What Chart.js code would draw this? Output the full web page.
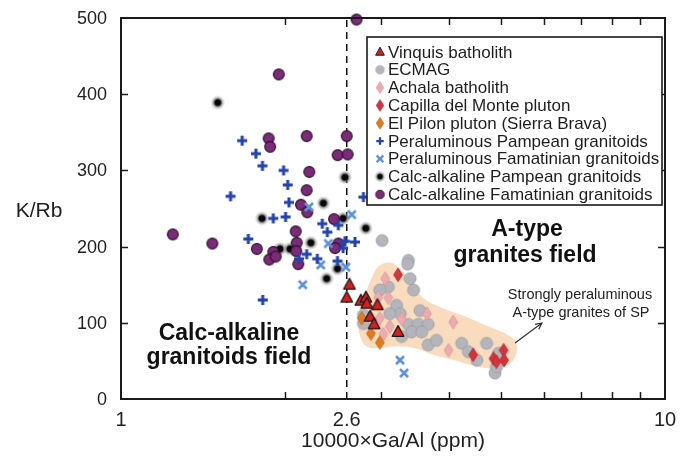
<!DOCTYPE html>
<html>
<head>
<meta charset="utf-8">
<script src="https://cdn.jsdelivr.net/npm/chart.js@4.4.1/dist/chart.umd.min.js"></script>
<style>
  html, body { margin: 0; padding: 0; background: #fff; }
  canvas { display: block; }
</style>
</head>
<body>
<canvas id="grafico" width="688" height="464"></canvas>
<script>
// -- Diagrama K/Rb x 10000xGa/Al --
const ticksX = [1, 2.6, 10];
const ticksXMenores = [2, 3, 4, 5, 6, 7, 8, 9];
const ticksY = [0, 100, 200, 300, 400, 500];
const limiteGaAl = 2.6;

// series [Ga/Al, K/Rb]
const vinquis = [[2.63,150],[2.60,133],[2.76,129],[2.82,133],[2.83,125],[2.96,123],[2.87,108],[2.92,98],[3.23,88]];
const ecmag = [[3.02,208],[3.375,182],[3.365,177],[3.40,158],[3.10,147],[2.99,143],[3.45,143],[3.21,123],[3.545,116],
  [3.26,112],[3.12,112],[2.79,110],[2.79,99],[3.375,98],[3.52,98],[3.67,98],[3.42,88],[3.57,88],[3.28,82],
  [3.67,71],[3.80,77],[4.23,73],[4.70,73],[4.35,62],[4.51,51],[4.94,60],[4.87,34],[4.90,42]];
const achala = [[3.06,158],[3.10,133],[2.97,133],[3.65,112],[2.99,106],[3.28,105],[3.12,95],[4.08,101],[3.035,85],[4.00,64]];
const capilla = [[3.23,163],[4.44,58],[4.84,53],[4.90,49],[5.05,64],[5.06,51]];
const elPilon = [[2.77,106],[2.88,86],[2.99,74]];
const peralPampeano = [[1.67,339],[1.77,322],[1.82,306],[1.99,300],[2.025,281],[1.59,266],[2.79,265],[2.036,258],
  [1.905,237],[2.007,239],[2.344,230],[2.509,228],[2.395,219],[1.714,210],[2.58,207],[2.692,206],[2.56,198],
  [2.124,184],[2.194,190],[2.295,184],[2.50,181],[1.822,130]];
const peralFamatiniano = [[2.215,252],[2.655,242],[2.405,204],[2.329,176],[2.59,173],[2.158,150],[3.258,51],[3.313,34]];
const calcPampeano = [[1.506,389],[2.58,291],[2.355,257],[1.816,237],[2.56,237],[2.818,224],[1.96,197],[2.045,197],
  [2.233,205],[2.50,171],[2.388,158]];
const calcFamatiniano = [[2.71,498],[1.95,426],[1.868,342],[1.88,331],[2.194,345],[2.60,345],[2.502,320],[2.61,321],
  [2.219,298],[2.194,274],[2.142,255],[2.20,245],[2.464,236],[2.095,220],[1.245,216],[1.472,204],[1.777,197],
  [2.104,205],[2.10,194],[2.509,204],[2.474,198],[1.905,193],[1.873,183],[1.925,187],[2.118,177]];

// campo dos granitos tipo A de SP (contorno em coordenadas de dados)
const campoX = [3.03,3.15,3.31,3.44,3.59,3.89,4.29,4.66,5.08,5.38,5.30,4.93,4.51,4.15,3.745,3.50,3.216,2.955,2.80,2.73,2.73,2.80,2.88,2.95];
const campoY = [178,180,167,148,131,119,109,97,87,75,49,39,42,50,58,67,70,66,68,88,113,135,157,173];
const setaX = [5.30, 5.94];
const setaY = [73.5, 99.7];

const fonte = 'Liberation Sans, Arial, Helvetica, sans-serif';

function marcador(tipo, cor, borda, escala) {
  const s = escala || 1;
  const c = document.createElement('canvas');
  const tam = Math.ceil(18 * s) + 2;
  c.width = tam; c.height = tam;
  const g = c.getContext('2d');
  g.translate(tam / 2, tam / 2);
  g.scale(s, s);
  g.fillStyle = cor;
  g.strokeStyle = borda;
  g.lineJoin = 'round';
  g.beginPath();
  switch (tipo) {
    case 'triangulo':
      g.moveTo(0, -6.4); g.lineTo(5.8, 4.3); g.lineTo(-5.8, 4.3); g.closePath();
      g.fill(); g.lineWidth = 1.3; g.stroke(); break;
    case 'circulo':
      g.arc(0, 0, 5.4, 0, 2 * Math.PI);
      g.fill(); g.lineWidth = 1.1; g.stroke(); break;
    case 'cinza':
      g.arc(0, 0, 6, 0, 2 * Math.PI);
      g.fill(); g.lineWidth = 0.8; g.stroke(); break;
    case 'losango':
      g.moveTo(0, -6.8); g.lineTo(4.4, 0); g.lineTo(0, 6.8); g.lineTo(-4.4, 0); g.closePath();
      g.fill(); g.lineWidth = 0.8; g.stroke(); break;
    case 'mais':
      g.lineWidth = 3; g.strokeStyle = cor;
      g.moveTo(-5, 0); g.lineTo(5, 0); g.moveTo(0, -5); g.lineTo(0, 5); g.stroke(); break;
    case 'xis':
      g.lineWidth = 2.6; g.strokeStyle = cor;
      g.moveTo(-4, -4); g.lineTo(4, 4); g.moveTo(4, -4); g.lineTo(-4, 4); g.stroke(); break;
    case 'halo': {
      const grad = g.createRadialGradient(0, 0, 0, 0, 0, 7.5);
      grad.addColorStop(0, '#000');
      grad.addColorStop(0.4, '#0c0c0c');
      grad.addColorStop(0.55, 'rgba(110,110,110,0.75)');
      grad.addColorStop(1, 'rgba(210,210,210,0)');
      g.fillStyle = grad;
      g.arc(0, 0, 7.5, 0, 2 * Math.PI); g.fill(); break;
    }
  }
  return c;
}

const estilos = [
  { nome: 'Vinquis batholith', dados: vinquis, tipo: 'triangulo', cor: '#d81f1f', borda: '#1a1a1a', leg: 0.75 },
  { nome: 'ECMAG', dados: ecmag, tipo: 'cinza', cor: '#b3b5bb', borda: '#9a9ca3', leg: 0.72 },
  { nome: 'Achala batholith', dados: achala, tipo: 'losango', cor: '#eeaab1', borda: '#d8959c', leg: 0.85 },
  { nome: 'Capilla del Monte pluton', dados: capilla, tipo: 'losango', cor: '#d3333b', borda: '#b52430', leg: 0.85 },
  { nome: 'El Pilon pluton (Sierra Brava)', dados: elPilon, tipo: 'losango', cor: '#e07b22', borda: '#c46410', leg: 0.85 },
  { nome: 'Peraluminous Pampean granitoids', dados: peralPampeano, tipo: 'mais', cor: '#2142b0', borda: '#2142b0', leg: 0.75 },
  { nome: 'Peraluminous Famatinian granitoids', dados: peralFamatiniano, tipo: 'xis', cor: '#5b8fe0', borda: '#5b8fe0', leg: 0.85 },
  { nome: 'Calc-alkaline Pampean granitoids', dados: calcPampeano, tipo: 'halo', cor: '#000', borda: '#000', leg: 0.8 },
  { nome: 'Calc-alkaline Famatinian granitoids', dados: calcFamatiniano, tipo: 'circulo', cor: '#7b2b79', borda: '#2a1029', leg: 0.8 }
];

// ordem de desenho: menor ordem fica por cima
const ordemDesenho = [0, 4, 2, 3, 1, 5, 6, 8, 7];

const datasets = estilos.map((e, i) => ({
  label: e.nome,
  data: e.dados.map(p => ({ x: p[0], y: p[1] })),
  pointStyle: marcador(e.tipo, e.cor, e.borda, 1),
  pointRadius: 6,
  order: ordemDesenho.indexOf(i),
  clip: false
}));

datasets.push({
  label: 'limite',
  data: [{ x: limiteGaAl, y: 0 }, { x: limiteGaAl, y: 500 }],
  showLine: true,
  borderColor: '#111',
  borderWidth: 1.5,
  borderDash: [7, 5],
  pointRadius: 0,
  order: 50
});

const pluginCampo = {
  id: 'campo',
  beforeDatasetsDraw(chart) {
    const { ctx, scales: { x, y } } = chart;
    const pts = campoX.map((v, i) => [x.getPixelForValue(v), y.getPixelForValue(campoY[i])]);
    const n = pts.length;
    const meio = (a, b) => [(a[0] + b[0]) / 2, (a[1] + b[1]) / 2];
    ctx.save();
    ctx.beginPath();
    const m = meio(pts[n - 1], pts[0]);
    ctx.moveTo(m[0], m[1]);
    for (let i = 0; i < n; i++) {
      const mm = meio(pts[i], pts[(i + 1) % n]);
      ctx.quadraticCurveTo(pts[i][0], pts[i][1], mm[0], mm[1]);
    }
    ctx.closePath();
    ctx.fillStyle = '#f9dbbd';
    ctx.fill();
    ctx.restore();
  }
};

const pluginMoldura = {
  id: 'moldura',
  afterDatasetsDraw(chart) {
    const { ctx, chartArea: a, scales: { x, y } } = chart;
    ctx.save();
    ctx.strokeStyle = '#1a1a1a';
    ctx.fillStyle = '#222';

    // ticks para dentro
    ctx.lineWidth = 1.5;
    ctx.beginPath();
    ticksXMenores.forEach(v => {
      const px = Math.round(x.getPixelForValue(v)) + 0.5;
      ctx.moveTo(px, a.bottom); ctx.lineTo(px, a.bottom - 7);
      ctx.moveTo(px, a.top); ctx.lineTo(px, a.top + 7);
    });
    ticksY.slice(1, -1).forEach(v => {
      const py = Math.round(y.getPixelForValue(v)) + 0.5;
      ctx.moveTo(a.left, py); ctx.lineTo(a.left + 7, py);
      ctx.moveTo(a.right, py); ctx.lineTo(a.right - 7, py);
    });
    ctx.stroke();

    // legenda
    const lx = 367, ly = 37, lw = 295, lh = 168;
    ctx.fillStyle = '#fff';
    ctx.fillRect(lx, ly, lw, lh);
    ctx.lineWidth = 1.6;
    ctx.strokeRect(lx, ly, lw, lh);
    ctx.font = '17px ' + fonte;
    ctx.textAlign = 'left';
    ctx.textBaseline = 'middle';
    estilos.forEach((e, i) => {
      const cy = ly + 15 + i * 17.8;
      const img = marcador(e.tipo, e.cor, e.borda, e.leg);
      ctx.drawImage(img, 380 - img.width / 2, cy - img.height / 2);
      ctx.fillStyle = '#1e1e1e';
      ctx.fillText(e.nome, 388, cy + 1);
    });

    // moldura
    ctx.lineWidth = 2;
    ctx.strokeRect(a.left, a.top, a.right - a.left, a.bottom - a.top);

    // rotulos dos eixos
    ctx.fillStyle = '#222';
    ctx.font = '18px ' + fonte;
    ctx.textAlign = 'right';
    ctx.textBaseline = 'middle';
    ticksY.forEach(v => ctx.fillText(String(v), 107, y.getPixelForValue(v) + 1));
    ctx.textAlign = 'center';
    ctx.textBaseline = 'top';
    ctx.font = '20px ' + fonte;
    ticksX.forEach(v => ctx.fillText(String(v), x.getPixelForValue(v), 410));

    ctx.font = '21px ' + fonte;
    ctx.textBaseline = 'middle';
    ctx.fillText('K/Rb', 39, 211);
    ctx.fillText('10000\u00d7Ga/Al (ppm)', (a.left + a.right) / 2, 441);

    // textos dos campos
    ctx.font = 'bold 23px ' + fonte;
    ctx.fillStyle = '#111';
    ctx.textBaseline = 'alphabetic';
    ctx.fillText('A-type', 527, 236);
    ctx.fillText('granites field', 525, 262);
    ctx.fillText('Calc-alkaline', 229, 340);
    ctx.fillText('granitoids field', 229, 364);

    ctx.font = '14.5px ' + fonte;
    ctx.fillStyle = '#222';
    ctx.fillText('Strongly peraluminous', 580, 299);
    ctx.fillText('A-type granites of SP', 581, 317);

    // seta
    const x0 = x.getPixelForValue(setaX[0]), y0 = y.getPixelForValue(setaY[0]);
    const x1 = x.getPixelForValue(setaX[1]), y1 = y.getPixelForValue(setaY[1]);
    const ang = Math.atan2(y1 - y0, x1 - x0);
    ctx.strokeStyle = '#333';
    ctx.lineWidth = 1.2;
    ctx.beginPath();
    ctx.moveTo(x0, y0); ctx.lineTo(x1, y1);
    ctx.moveTo(x1 - 7 * Math.cos(ang - 0.45), y1 - 7 * Math.sin(ang - 0.45));
    ctx.lineTo(x1, y1);
    ctx.lineTo(x1 - 7 * Math.cos(ang + 0.45), y1 - 7 * Math.sin(ang + 0.45));
    ctx.stroke();
    ctx.restore();
  }
};

new Chart(document.getElementById('grafico'), {
  type: 'scatter',
  data: { datasets },
  options: {
    responsive: false,
    animation: false,
    devicePixelRatio: 1,
    layout: { padding: { left: 121, right: 23, top: 18, bottom: 65 } },
    scales: {
      x: { type: 'logarithmic', min: 1, max: 10, display: false },
      y: { min: 0, max: 500, display: false }
    },
    plugins: {
      legend: { display: false },
      tooltip: { enabled: false }
    }
  },
  plugins: [pluginCampo, pluginMoldura]
});
</script>
</body>
</html>
